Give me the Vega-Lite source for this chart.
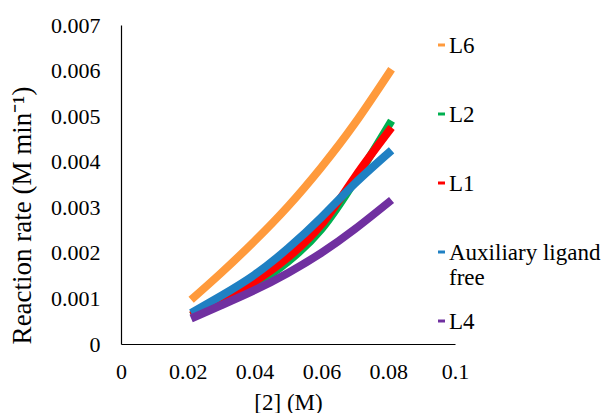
{
  "$schema": "https://vega.github.io/schema/vega-lite/v6.json",
  "width": 334,
  "height": 319,
  "autosize": {"type": "none"},
  "padding": {"left": 121, "top": 25, "right": 155, "bottom": 69},
  "background": "white",
  "config": {"view": {"stroke": null}, "font": "Liberation Serif, Times New Roman, serif"},
  "data": {"values": [
    {"series": "L6", "x": 0.021, "y": 0.00097},
    {"series": "L6", "x": 0.03, "y": 0.00156},
    {"series": "L6", "x": 0.04, "y": 0.00226},
    {"series": "L6", "x": 0.05, "y": 0.00302},
    {"series": "L6", "x": 0.06, "y": 0.00388},
    {"series": "L6", "x": 0.07, "y": 0.00484},
    {"series": "L6", "x": 0.081, "y": 0.00603},
    {"series": "L2", "x": 0.021, "y": 0.00062},
    {"series": "L2", "x": 0.03, "y": 0.00093},
    {"series": "L2", "x": 0.04, "y": 0.0013},
    {"series": "L2", "x": 0.05, "y": 0.00181},
    {"series": "L2", "x": 0.06, "y": 0.00252},
    {"series": "L2", "x": 0.07, "y": 0.00358},
    {"series": "L2", "x": 0.081, "y": 0.0049},
    {"series": "L1", "x": 0.021, "y": 0.00063},
    {"series": "L1", "x": 0.03, "y": 0.00097},
    {"series": "L1", "x": 0.04, "y": 0.00137},
    {"series": "L1", "x": 0.05, "y": 0.0019},
    {"series": "L1", "x": 0.06, "y": 0.00262},
    {"series": "L1", "x": 0.07, "y": 0.00366},
    {"series": "L1", "x": 0.081, "y": 0.00475},
    {"series": "Auxiliary ligand free", "x": 0.021, "y": 0.00068},
    {"series": "Auxiliary ligand free", "x": 0.03, "y": 0.00106},
    {"series": "Auxiliary ligand free", "x": 0.04, "y": 0.00152},
    {"series": "Auxiliary ligand free", "x": 0.05, "y": 0.0021},
    {"series": "Auxiliary ligand free", "x": 0.06, "y": 0.00278},
    {"series": "Auxiliary ligand free", "x": 0.07, "y": 0.00352},
    {"series": "Auxiliary ligand free", "x": 0.081, "y": 0.00425},
    {"series": "L4", "x": 0.021, "y": 0.00056},
    {"series": "L4", "x": 0.03, "y": 0.00085},
    {"series": "L4", "x": 0.04, "y": 0.00118},
    {"series": "L4", "x": 0.05, "y": 0.00156},
    {"series": "L4", "x": 0.06, "y": 0.002},
    {"series": "L4", "x": 0.07, "y": 0.00252},
    {"series": "L4", "x": 0.081, "y": 0.00316}
  ]},
  "mark": {"type": "line", "strokeWidth": 8, "interpolate": "natural", "strokeCap": "butt"},
  "encoding": {
    "x": {
      "field": "x", "type": "quantitative",
      "scale": {"domain": [0, 0.1], "nice": false, "zero": false},
      "axis": {
        "title": "[2] (M)", "values": [0, 0.02, 0.04, 0.06, 0.08, 0.1], "format": "~g",
        "grid": false, "ticks": false, "tickSize": 0, "domainColor": "#000000", "domainWidth": 1.2,
        "labelFont": "Liberation Serif", "labelFontSize": 22, "labelColor": "#000000", "labelPadding": 17,
        "labelFlush": false, "labelOverlap": false,
        "titleFont": "Liberation Serif", "titleFontSize": 23, "titleFontWeight": "normal", "titleColor": "#000000",
        "titleX": 167, "titleY": 58, "titleAlign": "center", "titleBaseline": "middle"
      }
    },
    "y": {
      "field": "y", "type": "quantitative",
      "scale": {"domain": [0, 0.007], "nice": false},
      "axis": {
        "title": "Reaction rate (M min⁻¹)", "values": [0, 0.001, 0.002, 0.003, 0.004, 0.005, 0.006, 0.007], "format": "~g",
        "grid": false, "ticks": false, "tickSize": 0, "domainColor": "#000000", "domainWidth": 1.2,
        "labelFont": "Liberation Serif", "labelFontSize": 22, "labelColor": "#000000", "labelPadding": 21,
        "labelFlush": false, "labelOverlap": false,
        "titleFont": "Liberation Serif", "titleFontSize": 27, "titleFontWeight": "normal", "titleColor": "#000000",
        "titleX": -99, "titleY": 190, "titleAngle": -90, "titleAlign": "center", "titleBaseline": "middle"
      }
    },
    "color": {
      "field": "series", "type": "nominal",
      "scale": {
        "domain": ["L6", "L2", "L1", "Auxiliary ligand free", "L4"],
        "range": ["#ff9a3c", "#00b050", "#ff0000", "#1f80c3", "#7030a0"]
      },
      "legend": {
        "title": null, "orient": "none", "legendX": 309, "legendY": -2, "padding": 0,
        "symbolType": "M-0.7,2.1L0.7,2.1", "symbolSize": 100, "symbolStrokeWidth": 3,
        "labelFont": "Liberation Serif", "labelFontSize": 23, "labelColor": "#000000",
        "labelBaseline": "top", "labelOffset": -4, "rowPadding": 9, "labelLimit": 300,
        "labelExpr": "datum.label == 'Auxiliary ligand free' ? ['Auxiliary ligand', 'free'] : [datum.label, '']"
      }
    }
  }
}
